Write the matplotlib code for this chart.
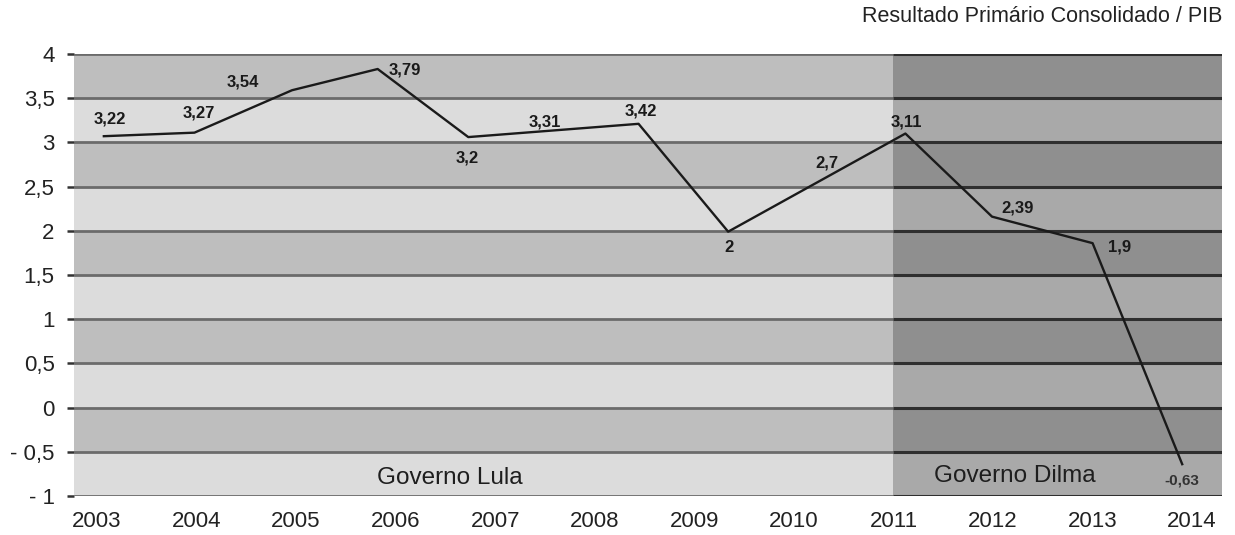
import numpy as np
import matplotlib
matplotlib.use("Agg")
import matplotlib.pyplot as plt

plt.rcParams["font.family"] = ["Liberation Sans", "DejaVu Sans"]

# Dados
anos = [2003, 2004, 2005, 2006, 2007, 2008, 2009, 2010, 2011, 2012, 2013, 2014]

# vértices da linha tal como desenhada (posição em anos, valor)
linha_x = [2003.07, 2003.98, 2004.96, 2005.82, 2006.73, 2008.44, 2009.34,
           2011.12, 2011.99, 2013.00, 2013.90]
linha_y = [3.07, 3.11, 3.59, 3.83, 3.06, 3.21, 1.99, 3.10, 2.16, 1.86, -0.64]

# rótulos de valor e onde aparecem
rotulos = ["3,22", "3,27", "3,54", "3,79", "3,2", "3,31", "3,42", "2",
           "2,7", "3,11", "2,39", "1,9", "-0,63"]
rot_x = [2003.13, 2004.02, 2004.47, 2006.09, 2006.72, 2007.50, 2008.46,
         2009.35, 2010.33, 2011.13, 2012.25, 2013.27, 2013.90]
rot_y = [3.26, 3.33, 3.68, 3.82, 2.82, 3.23, 3.36, 1.81, 2.77, 3.23,
         2.26, 1.82, -0.83]

y_ticks = [4, 3.5, 3, 2.5, 2, 1.5, 1, 0.5, 0, -0.5, -1]
y_tick_lab = ["4", "3,5", "3", "2,5", "2", "1,5", "1", "0,5", "0", "- 0,5", "- 1"]

governos = ["Governo Lula", "Governo Dilma"]
gov_x = [2006.54, 2012.22]
gov_y = [-0.80, -0.77]

corte = 2011          # início do governo Dilma
x0, x1 = 2002.77, 2014.30

# cores das faixas: (clara, escura) para cada governo
COR_LULA = ("#dcdcdc", "#bebebe")
COR_DILMA = ("#a9a9a9", "#8f8f8f")
GRADE_LULA = "#6b6b6b"
GRADE_DILMA = "#2f2f2f"

fig = plt.figure(figsize=(12.35, 5.35), dpi=100)
ax = fig.add_axes([0.0599, 0.0729, 0.9296, 0.8262])

# faixas horizontais alternadas
for i in range(len(y_ticks) - 1):
    topo, base = y_ticks[i], y_ticks[i + 1]
    escura = (i % 2 == 0)
    ax.fill_between([x0, corte], base, topo, color=COR_LULA[escura], lw=0, zorder=0)
    ax.fill_between([corte, x1], base, topo, color=COR_DILMA[escura], lw=0, zorder=0)

# linhas de grade
ax.hlines(y_ticks, x0, corte, colors=GRADE_LULA, lw=2.0, zorder=1)
ax.hlines(y_ticks, corte, x1, colors=GRADE_DILMA, lw=2.2, zorder=1)

# série
ax.plot(linha_x, linha_y, color="#1a1a1a", lw=1.7, zorder=3)

for txt, xp, yp in zip(rotulos, rot_x, rot_y):
    if txt.startswith("-"):
        tam, cor = 11, "#333333"
    else:
        tam, cor = 12, "#1a1a1a"
    ax.text(xp, yp, txt, ha="center", va="center", fontsize=tam,
            fontweight="bold", color=cor, zorder=4)

for txt, xp, yp in zip(governos, gov_x, gov_y):
    ax.text(xp, yp, txt, ha="center", va="center", fontsize=17.5,
            color="#1e1e1e", zorder=4)

ax.set_xlim(x0, x1)
ax.set_ylim(-1, 4)
ax.set_xticks(anos)
ax.set_xticklabels([str(a) for a in anos])
ax.set_yticks(y_ticks)
ax.set_yticklabels(y_tick_lab)
ax.tick_params(axis="x", length=0, pad=11, labelsize=16, labelcolor="#222222")
ax.tick_params(axis="y", length=5, width=1.8, color="#333333", pad=9,
               labelsize=16, labelcolor="#222222")
for s in ax.spines.values():
    s.set_visible(False)

fig.text(0.9895, 1 - 16 / 535, "Resultado Primário Consolidado / PIB",
         ha="right", va="center", fontsize=15.5, color="#222222")

fig.savefig("out.png", dpi=100)
